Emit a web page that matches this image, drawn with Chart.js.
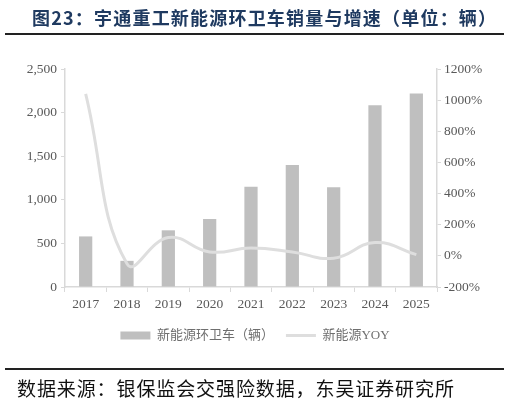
<!DOCTYPE html>
<html>
<head>
<meta charset="utf-8">
<script src="https://cdn.jsdelivr.net/npm/chart.js@4/dist/chart.umd.min.js"></script>
<style>
  body { margin: 0; width: 510px; height: 403px; background: #fff; position: relative; overflow: hidden; }
  #title { position: absolute; left: 32px; top: 4px; font: bold 18px "Noto Sans CJK SC", sans-serif; letter-spacing: 1.2px; color: #1f3a60; white-space: nowrap; }
  .rule { position: absolute; left: 5px; width: 499px; height: 2px; background: #222; }
  #source { position: absolute; left: 17px; top: 374px; font: 19px "Noto Sans CJK SC", sans-serif; letter-spacing: 0.9px; color: #111; white-space: nowrap; }
  #wrap { position: absolute; left: 0; top: 0; width: 510px; height: 403px; }
</style>
</head>
<body>
<div id="wrap"><canvas id="chartVentas"></canvas></div>
<div id="title">图23：宇通重工新能源环卫车销量与增速（单位：辆）</div>
<div class="rule" style="top:33px"></div>
<div class="rule" style="top:368px"></div>
<div id="source">数据来源：银保监会交强险数据，东吴证券研究所</div>
<script>
// datos
const years = ['2017', '2018', '2019', '2020', '2021', '2022', '2023', '2024', '2025'];
const ventas = [580, 300, 650, 780, 1150, 1400, 1145, 2085, 2220];
const yoy = [1040, -50, 118, 25, 50, 25, -15, 85, 8];
const serieNames = ['新能源环卫车（辆）', '新能源YOY'];

const tickFont = { family: '"Liberation Serif", "Times New Roman", serif', size: 13.5 };
const axisGray = '#d9d9d9';

const ctx = document.getElementById('chartVentas').getContext('2d');
const chart = new Chart(ctx, {
    data: {
        labels: years,
        datasets: [{
            type: 'bar',
            label: serieNames[0],
            data: ventas,
            backgroundColor: '#bfbfbf',
            barPercentage: 0.32,
            categoryPercentage: 1,
            yAxisID: 'y',
            order: 2
        }, {
            type: 'line',
            label: serieNames[1],
            data: yoy,
            borderColor: '#dedede',
            borderWidth: 3,
            pointRadius: 0,
            tension: 0.45,
            yAxisID: 'y1',
            order: 1
        }]
    },
    options: {
        responsive: true,
        maintainAspectRatio: false,
        animation: false,
        layout: { padding: { top: 69, bottom: 51, left: 0, right: 0 } },
        plugins: {
            tooltip: { enabled: false },
            legend: {
                position: 'bottom',
                labels: {
                    usePointStyle: true,
                    pointStyleWidth: 30,
                    boxWidth: 30,
                    boxHeight: 8,
                    padding: 12,
                    color: '#6f6f6f',
                    font: { family: '"Liberation Serif", "Noto Sans CJK SC", serif', size: 13 },
                    generateLabels: function(chart) {
                        const ds = chart.data.datasets;
                        return [{
                            text: ds[0].label,
                            fillStyle: ds[0].backgroundColor,
                            strokeStyle: ds[0].backgroundColor,
                            lineWidth: 0,
                            pointStyle: 'rect',
                            fontColor: '#6f6f6f',
                            datasetIndex: 0
                        }, {
                            text: ds[1].label,
                            fillStyle: ds[1].borderColor,
                            strokeStyle: ds[1].borderColor,
                            lineWidth: 3,
                            pointStyle: 'line',
                            fontColor: '#6f6f6f',
                            datasetIndex: 1
                        }];
                    }
                }
            }
        },
        scales: {
            x: {
                grid: { offset: true, drawOnChartArea: false, drawTicks: true, tickLength: 5, color: axisGray },
                border: { color: axisGray, width: 1.5 },
                ticks: { color: '#595959', font: tickFont, padding: 4, maxRotation: 0 },
                afterFit: function(scale) { scale.height = 30; }
            },
            y: {
                position: 'left',
                min: 0,
                max: 2500,
                ticks: {
                    stepSize: 500,
                    color: '#595959',
                    font: tickFont,
                    padding: 4,
                    callback: v => v.toLocaleString('en-US')
                },
                grid: { drawOnChartArea: false, drawTicks: true, tickLength: 4, color: axisGray },
                border: { color: axisGray, width: 1.5 },
                afterFit: function(scale) { scale.width = 65; }
            },
            y1: {
                position: 'right',
                min: -200,
                max: 1200,
                ticks: {
                    stepSize: 200,
                    color: '#595959',
                    font: tickFont,
                    padding: 3,
                    callback: v => v + '%'
                },
                grid: { drawOnChartArea: false, drawTicks: true, tickLength: 4, color: axisGray },
                border: { color: axisGray, width: 1.5 },
                afterFit: function(scale) { scale.width = 73; }
            }
        }
    }
});
</script>
</body>
</html>
